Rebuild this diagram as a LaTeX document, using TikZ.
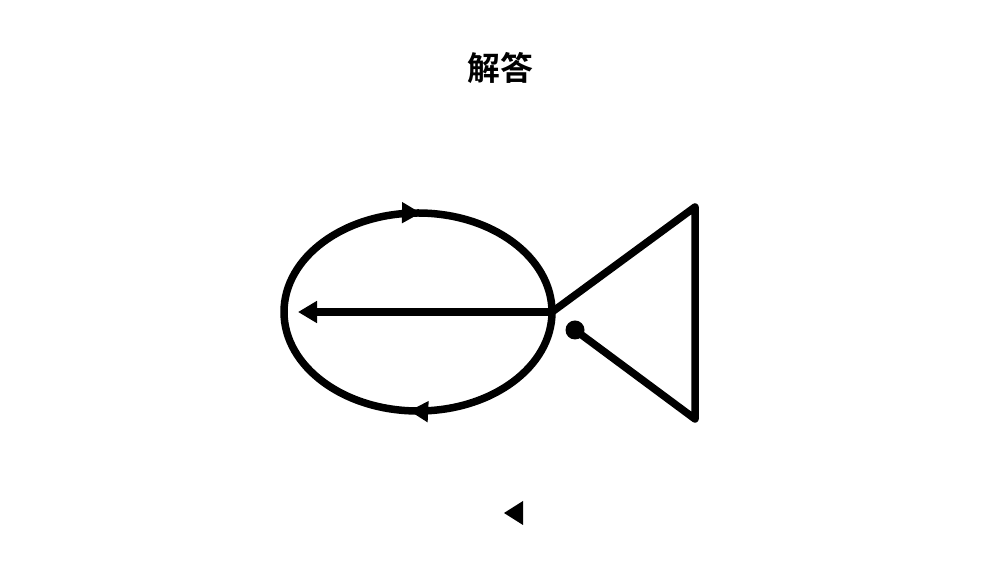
\documentclass[tikz,border=0pt]{standalone}
\usepackage{fontspec}
\newfontfamily\cjk{Noto Sans CJK SC}[BoldFont={Noto Sans CJK SC Bold}]
\usetikzlibrary{arrows.meta,decorations.markings}

\tikzset{
	fishline/.style={line width=0.225cm, line cap=round, line join=round},
	eyedot/.style={shape=circle, fill=black, inner sep=0pt, minimum size=0.57cm},
}

\begin{document}
\begin{tikzpicture}[x=0.03cm, y=0.03cm]

		\useasboundingbox (0,0) rectangle (1000,563);

		\node (title) at (500,495) {\cjk\fontsize{28pt}{30pt}\selectfont\bfseries 解答};

		\coordinate (mouth) at (552,251);
		\coordinate (tail) at (298,251);
		\coordinate (fintop) at (695,356);
		\coordinate (finbot) at (695,144);
		\node[eyedot] (eye) at (575,233) {};

		% body, traced clockwise
		\draw[fishline, postaction={decorate}, decoration={markings,
			mark=at position 0.262 with {\arrow{Triangle[length=0.57cm,width=0.6cm]}},
			mark=at position 0.754 with {\arrow{Triangle[length=0.57cm,width=0.6cm]}}}]
			(mouth) arc[start angle=360, end angle=0, x radius=134, y radius=99];

		\path[fishline, -{Triangle[length=0.57cm,width=0.63cm]}] (mouth) edge (tail);
		\draw[fishline] (mouth) -- (fintop) -- (finbot) -- (eye.center);

		\fill (504,50) -- (523,62) -- (523,38) -- cycle;

\end{tikzpicture}
\end{document}
